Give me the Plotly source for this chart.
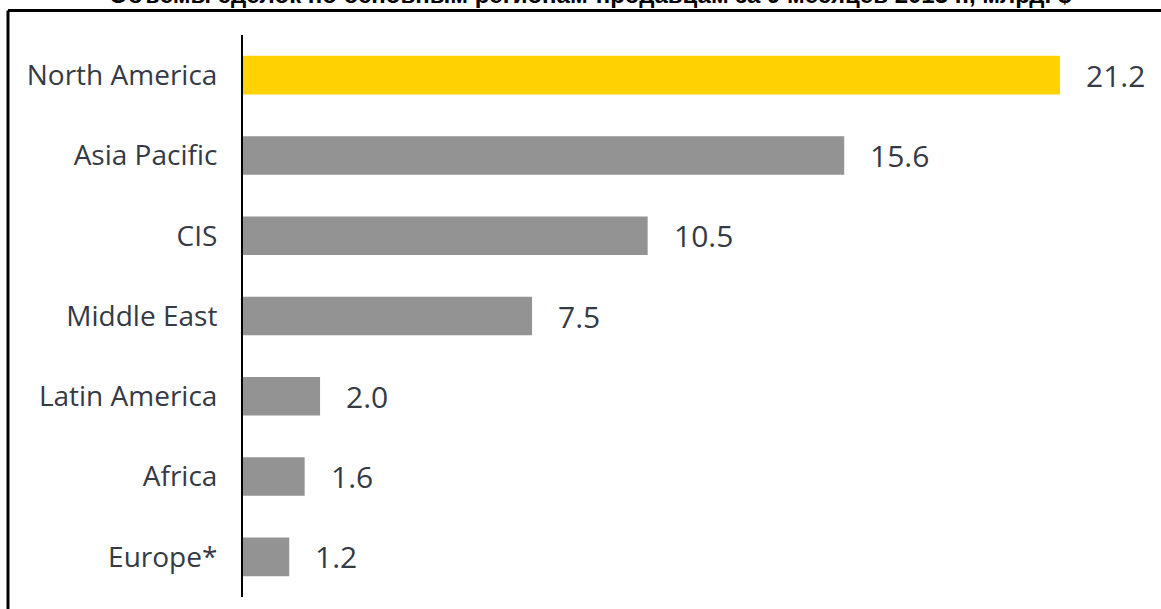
import plotly.graph_objects as go

# данные
regions = ['North America', 'Asia Pacific', 'CIS', 'Middle East',
           'Latin America', 'Africa', 'Europe*']
values = [21.2, 15.6, 10.5, 7.5, 2.0, 1.6, 1.2]
colors = ['#FFD200'] + ['#939393'] * 6

title = 'Объемы сделок по основным регионам-продавцам за 9 месяцев 2013 г., млрд. $'

W, H = 1161, 609
L, R, T, B = 243, 0, 35, 12
TXT = '#353a44'

fig = go.Figure(go.Bar(
    x=values,
    y=regions,
    orientation='h',
    marker=dict(color=colors, line=dict(width=0)),
    width=0.48,
    hoverinfo='x+y',
))

# подписи значений
for r, v in zip(regions, values):
    fig.add_annotation(x=v, y=r, text=f'{v:.1f}', showarrow=False,
                       xanchor='left', xshift=24,
                       font=dict(family='Open Sans', size=30, color=TXT))

# рамка
def px_x(px):
    return (px - L) / (W - L - R)

def px_y(py):
    return (H - B - py) / (H - T - B)

fig.add_shape(type='line', xref='paper', yref='paper',
              x0=px_x(8), x1=px_x(W + 5), y0=px_y(10.5), y1=px_y(10.5),
              line=dict(color='black', width=3))
fig.add_shape(type='line', xref='paper', yref='paper',
              x0=px_x(8), x1=px_x(8), y0=px_y(10.5), y1=px_y(H + 5),
              line=dict(color='black', width=3))

# заголовок, обрезанный сверху
fig.add_annotation(xref='paper', yref='paper', x=px_x(590), y=px_y(10),
                   yanchor='bottom', xanchor='center', showarrow=False,
                   text=f'<b>{title}</b>',
                   font=dict(family='Liberation Sans', size=24, color='black'))

fig.update_layout(
    width=W, height=H,
    margin=dict(l=L, r=R, t=T, b=B),
    paper_bgcolor='white', plot_bgcolor='white',
    showlegend=False,
    xaxis=dict(range=[0, 23.82], visible=False, fixedrange=True),
    yaxis=dict(autorange='reversed', showline=True, linecolor='black',
               linewidth=2, ticks='', showgrid=False, ticklabelstandoff=18,
               tickfont=dict(family='Open Sans', size=28, color=TXT)),
)

fig.write_html('out.html',
               config={'displayModeBar': False},
               post_script="document.body.style.margin='0';"
                           "document.body.style.overflow='hidden';")
